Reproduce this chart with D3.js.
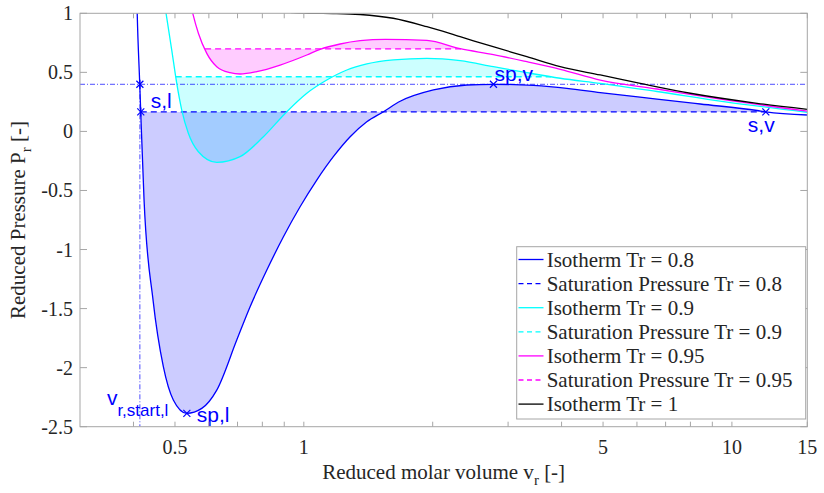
<!DOCTYPE html>
<html><head><meta charset="utf-8">
<script src="https://cdn.jsdelivr.net/npm/d3@7"></script>
<style>body{margin:0;background:#fff}svg{display:block}.serif{font-family:"Times New Roman","Liberation Serif","DejaVu Serif",serif}.sans{font-family:Arial,"Liberation Sans",sans-serif}</style>
</head><body>
<svg id="c" width="824" height="493"></svg>
<script>
// ---------- data ----------
const xTickLabels = [0.5, 1, 5, 10, 15];
const xMinorTicks = [0.4, 0.6, 0.7, 0.8, 0.9, 2, 3, 4, 6, 7, 8, 9];
const yTicks = [-2.5, -2, -1.5, -1, -0.5, 0, 0.5, 1];

// Isotherm Tr = 0.8
const v08 = [0.4056, 0.4081, 0.4137, 0.4159, 0.4234, 0.4444, 0.4697, 0.4956, 0.5327, 0.5775, 0.626, 0.6971, 0.749, 0.8195, 0.896, 0.980, 1.072, 1.172, 1.283, 1.403, 1.535, 1.679, 2.008, 2.403, 2.773, 3.44, 4.116, 4.924, 6.683, 8.436, 11.45, 12.0, 15];
const p08 = [1.45, 1.00, 0.399, 0.164, -0.581, -1.428, -1.992, -2.274, -2.387, -2.345, -2.190, -1.766, -1.484, -1.174, -0.892, -0.638, -0.412, -0.214, -0.045, 0.082, 0.167, 0.255, 0.351, 0.393, 0.399, 0.389, 0.365, 0.329, 0.274, 0.232, 0.177, 0.165, 0.139];
// Isotherm Tr = 0.9
const v09 = [0.4640, 0.4766, 0.4914, 0.5048, 0.5186, 0.5373, 0.5671, 0.626, 0.7096, 0.8046, 0.9126, 1.0162, 1.1314, 1.2602, 1.4032, 1.6192, 1.9381, 2.318, 2.7727, 3.3194, 3.9707, 4.924, 6.683, 9.561, 15];
const p09 = [1.282, 1.000, 0.689, 0.407, 0.181, -0.016, -0.172, -0.262, -0.214, -0.045, 0.167, 0.323, 0.435, 0.520, 0.571, 0.605, 0.619, 0.599, 0.548, 0.497, 0.450, 0.407, 0.338, 0.253, 0.162];
// Isotherm Tr = 0.95
const v095 = [0.541, 0.5502, 0.5671, 0.5933, 0.626, 0.6726, 0.7096, 0.7764, 0.8804, 1.0162, 1.0915, 1.2155, 1.3535, 1.55, 1.938, 2.318, 2.7727, 3.319, 3.971, 4.924, 6.683, 9.561, 15];
const p095 = [1.113, 1.000, 0.831, 0.661, 0.548, 0.497, 0.486, 0.506, 0.562, 0.647, 0.695, 0.740, 0.768, 0.780, 0.770, 0.700, 0.650, 0.590, 0.526, 0.435, 0.359, 0.270, 0.172];
// Isotherm Tr = 1
const v10 = [0.85, 0.944, 1.05, 1.17, 1.3535, 1.617, 1.938, 2.318, 2.768, 3.319, 3.971, 4.924, 6.108, 7.995, 11.45, 15];
const p10 = [1.08, 1.005, 1.000, 0.998, 0.990, 0.958, 0.887, 0.802, 0.717, 0.633, 0.548, 0.478, 0.407, 0.323, 0.238, 0.187];

// Saturation pressures and the liquid / vapour volumes where they meet the isotherms
const satTr = [0.8, 0.9, 0.95];
const satP = [0.165, 0.463, 0.698];
const satVl = [0.416, 0.502, 0.588];
const satVv = [12.0, 3.78, 2.33];

// Spinodal pressure line and marked points
const spinP = 0.399;
const startV = 0.414;
const markV = [0.414, 0.416, 0.533, 2.773, 12.0];
const markP = [0.399, 0.165, -2.387, 0.399, 0.165];

// ---------- drawing ----------
const m = {l: 80, r: 807.3, t: 13.3, b: 426.7};
const svg = d3.select("#c");
const x = d3.scaleLog().domain([0.3, 15]).range([m.l, m.r]);
const y = d3.scaleLinear().domain([-2.5, 1]).range([m.b, m.t]);

svg.append("defs").append("clipPath").attr("id", "clip")
  .append("rect").attr("x", m.l).attr("y", m.t).attr("width", m.r - m.l).attr("height", m.b - m.t);

const series = [
  {v: v08, p: p08, color: "#0000ff"},
  {v: v09, p: p09, color: "#00ffff"},
  {v: v095, p: p095, color: "#ff00ff"},
  {v: v10, p: p10, color: "#000000"}
];

const plot = svg.append("g").attr("clip-path", "url(#clip)");
const curve = d3.curveMonotoneX;

// fills between isotherm and its saturation pressure
[2, 1, 0].forEach(k => {
  const s = series[k];
  const pts = [{v: satVl[k], p: satP[k]}];
  s.v.forEach((v, i) => { if (v > satVl[k] && v < satVv[k]) pts.push({v, p: s.p[i]}); });
  pts.push({v: satVv[k], p: satP[k]});
  const area = d3.area().x(d => x(d.v)).y0(y(satP[k])).y1(d => y(d.p)).curve(curve);
  plot.append("path").attr("d", area(pts)).attr("fill", s.color).attr("fill-opacity", 0.2).attr("stroke", "none");
});

// spinodal helper lines
plot.append("line").attr("x1", m.l).attr("x2", m.r).attr("y1", y(spinP)).attr("y2", y(spinP))
  .attr("stroke", "#0000ff").attr("stroke-width", 0.7).attr("stroke-dasharray", "5,2,1,2");
plot.append("line").attr("x1", x(startV)).attr("x2", x(startV)).attr("y1", y(spinP)).attr("y2", m.b)
  .attr("stroke", "#0000ff").attr("stroke-width", 0.7).attr("stroke-dasharray", "5,2,1,2");

// saturation dashed lines
[0, 1, 2].forEach(k => {
  plot.append("line").attr("x1", x(satVl[k])).attr("x2", x(satVv[k])).attr("y1", y(satP[k])).attr("y2", y(satP[k]))
    .attr("stroke", series[k].color).attr("stroke-width", 1.3).attr("stroke-dasharray", "6,4");
});

// isotherms
const line = d3.line().x(d => x(d[0])).y(d => y(d[1])).curve(curve);
series.forEach(s => {
  plot.append("path").attr("d", line(s.v.map((v, i) => [v, s.p[i]])))
    .attr("fill", "none").attr("stroke", s.color).attr("stroke-width", 1.3);
});

// markers
markV.forEach((v, i) => {
  const cx = x(v), cy = y(markP[i]), r = 3.5;
  const g = svg.append("g").attr("stroke", "#0000ff").attr("stroke-width", 1.2);
  g.append("line").attr("x1", cx - r).attr("x2", cx + r).attr("y1", cy - r).attr("y2", cy + r);
  g.append("line").attr("x1", cx - r).attr("x2", cx + r).attr("y1", cy + r).attr("y2", cy - r);
  if (i < 2) g.append("line").attr("x1", cx).attr("x2", cx).attr("y1", cy - r - 1).attr("y2", cy + r + 1);
});

// annotations
const ann = svg.append("g").attr("class", "sans").attr("fill", "#0000ff").attr("font-size", 21);
ann.append("text").attr("x", x(markV[1]) + 10).attr("y", y(markP[1]) - 4).text("s,l");
ann.append("text").attr("x", x(markV[3]) + 1).attr("y", y(markP[3]) - 3).text("sp,v");
ann.append("text").attr("x", x(markV[4]) - 18).attr("y", y(markP[4]) + 20).text("s,v");
ann.append("text").attr("x", x(markV[2]) + 10).attr("y", y(markP[2]) + 8.5).text("sp,l");
const vt = ann.append("text").attr("x", x(startV) - 33).attr("y", m.b - 22);
vt.append("tspan").text("v");
vt.append("tspan").attr("font-size", 17).attr("dy", 11.5).text("r,start,l");

// axes box + ticks
const axisCol = "#a6a6a6", txtCol = "#262626";
const ax = svg.append("g");
ax.append("rect").attr("x", m.l).attr("y", m.t).attr("width", m.r - m.l).attr("height", m.b - m.t)
  .attr("fill", "none").attr("stroke", axisCol).attr("stroke-width", 1);
const tlx = 5, tly = 7;
xTickLabels.concat(xMinorTicks).forEach(t => {
  const px = x(t);
  ax.append("line").attr("x1", px).attr("x2", px).attr("y1", m.b).attr("y2", m.b - tlx).attr("stroke", axisCol);
  ax.append("line").attr("x1", px).attr("x2", px).attr("y1", m.t).attr("y2", m.t + tlx).attr("stroke", axisCol);
});
yTicks.forEach(t => {
  const py = y(t);
  ax.append("line").attr("x1", m.l).attr("x2", m.l + tly).attr("y1", py).attr("y2", py).attr("stroke", axisCol);
  ax.append("line").attr("x1", m.r).attr("x2", m.r - tly).attr("y1", py).attr("y2", py).attr("stroke", axisCol);
});
xTickLabels.forEach(t => {
  ax.append("text").attr("class", "serif").attr("x", x(t)).attr("y", m.b + 27).attr("text-anchor", "middle")
    .attr("font-size", 20).attr("fill", txtCol).text(String(t));
});
yTicks.forEach(t => {
  ax.append("text").attr("class", "serif").attr("x", m.l - 7).attr("y", y(t) + 7).attr("text-anchor", "end")
    .attr("font-size", 20).attr("fill", txtCol).text(String(t));
});

// axis titles
const xl = ax.append("text").attr("class", "serif").attr("x", (m.l + m.r) / 2).attr("y", 479).attr("text-anchor", "middle")
  .attr("font-size", 21).attr("fill", txtCol);
xl.append("tspan").text("Reduced molar volume v");
xl.append("tspan").attr("font-size", 15).attr("dy", 6).text("r");
xl.append("tspan").attr("dy", -6).text(" [-]");
const yl = ax.append("text").attr("class", "serif").attr("transform", `translate(25,${(m.t + m.b) / 2}) rotate(-90)`).attr("text-anchor", "middle")
  .attr("font-size", 21).attr("fill", txtCol);
yl.append("tspan").text("Reduced Pressure P");
yl.append("tspan").attr("font-size", 15).attr("dy", 6).text("r");
yl.append("tspan").attr("dy", -6).text(" [-]");

// legend
const legNames = ["Isotherm Tr = 0.8", "Saturation Pressure Tr = 0.8", "Isotherm Tr = 0.9", "Saturation Pressure Tr = 0.9",
  "Isotherm Tr = 0.95", "Saturation Pressure Tr = 0.95", "Isotherm Tr = 1"];
const legCols = ["#0000ff", "#0000ff", "#00ffff", "#00ffff", "#ff00ff", "#ff00ff", "#000000"];
const leg = svg.append("g");
leg.append("rect").attr("x", 516.7).attr("y", 246.7).attr("width", 289).attr("height", 172.3)
  .attr("fill", "#fff").attr("stroke", axisCol);
legNames.forEach((n, i) => {
  const ly = 259.5 + i * 24.1;
  leg.append("line").attr("x1", 518.5).attr("x2", 543.5).attr("y1", ly).attr("y2", ly)
    .attr("stroke", legCols[i]).attr("stroke-width", 1.3).attr("stroke-dasharray", i % 2 === 1 ? "5,3.5" : null);
  leg.append("text").attr("class", "serif").attr("x", 546.7).attr("y", ly + 7).attr("font-size", 21)
    .attr("fill", txtCol).text(n);
});
</script>
</body></html>
